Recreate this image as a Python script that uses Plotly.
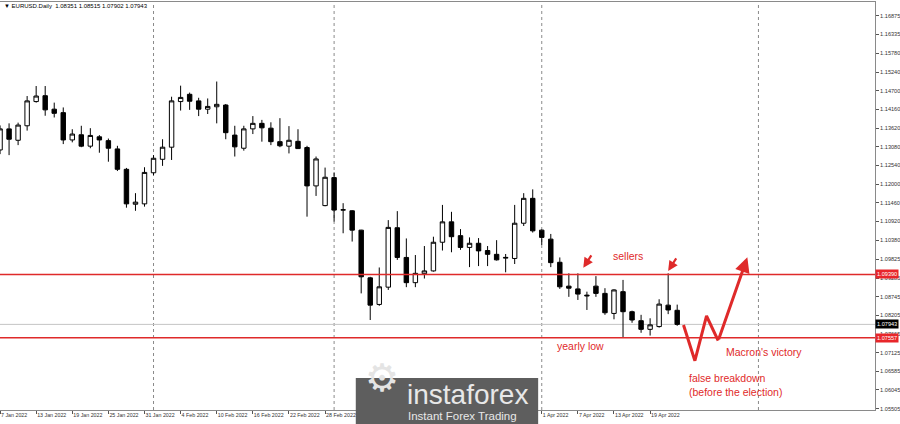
import plotly.graph_objects as go

# ---------------- data ----------------
opens = [1.1299, 1.1360, 1.1327, 1.1369, 1.1439, 1.1456, 1.1417, 1.1407, 1.1328, 1.1343,
         1.1310, 1.1337, 1.1326, 1.1302, 1.1243, 1.1142, 1.1143, 1.1233, 1.1272, 1.1307,
         1.1439, 1.1460, 1.1441, 1.1417, 1.1424, 1.1429, 1.1342, 1.1304, 1.1360, 1.1376,
         1.1362, 1.1323, 1.1310, 1.1324, 1.1306, 1.1195, 1.1138, 1.1219, 1.1125, 1.1123,
         1.1067, 1.0929, 1.0852, 1.0902, 1.1074, 1.0988, 1.0915, 1.0941, 1.0949, 1.1032,
         1.1091, 1.1051, 1.1017, 1.1029, 1.1008, 1.0997, 1.0986, 1.0985, 1.1087, 1.1159,
         1.1067, 1.1041, 1.0974, 1.0905, 1.0897, 1.0879, 1.0905, 1.0884, 1.0826, 1.0889,
         1.0831, 1.0805, 1.0780, 1.0788, 1.0850, 1.08351]
highs = [1.1370, 1.1376, 1.1378, 1.1455, 1.1484, 1.1484, 1.1436, 1.1422, 1.1359, 1.1369,
         1.1362, 1.1342, 1.1332, 1.1311, 1.1247, 1.1174, 1.1249, 1.1284, 1.1330, 1.1453,
         1.1485, 1.1465, 1.1450, 1.1448, 1.1497, 1.1432, 1.1369, 1.1369, 1.1397, 1.1386,
         1.1379, 1.1391, 1.1368, 1.1359, 1.1311, 1.1280, 1.1248, 1.1234, 1.1145, 1.1125,
         1.1068, 1.0932, 1.0959, 1.1096, 1.1122, 1.1043, 1.0995, 1.1021, 1.1048, 1.1140,
         1.1120, 1.1070, 1.1046, 1.1044, 1.1021, 1.1038, 1.0998, 1.1140, 1.1174, 1.1185,
         1.1069, 1.1056, 1.0988, 1.0942, 1.0942, 1.0889, 1.0934, 1.0899, 1.0896, 1.0923,
         1.0834, 1.0822, 1.0812, 1.0867, 1.0942, 1.08515]
lows = [1.1287, 1.1284, 1.1313, 1.1355, 1.1436, 1.1398, 1.1393, 1.1316, 1.1321, 1.1307,
        1.1304, 1.1291, 1.1265, 1.1238, 1.1132, 1.1123, 1.1135, 1.1226, 1.1253, 1.1270,
        1.1413, 1.1415, 1.1397, 1.1403, 1.1376, 1.1330, 1.1280, 1.1297, 1.1345, 1.1323,
        1.1313, 1.1307, 1.1289, 1.1302, 1.1106, 1.1166, 1.1136, 1.1092, 1.1058, 1.1034,
        1.0884, 1.0807, 1.0848, 1.0894, 1.0981, 1.0902, 1.0902, 1.0927, 1.0947, 1.1008,
        1.1003, 1.1010, 1.0960, 1.0963, 1.0963, 1.0979, 1.0945, 1.0969, 1.1079, 1.1060,
        1.1024, 1.0960, 1.0897, 1.0874, 1.0865, 1.0836, 1.0874, 1.0822, 1.0809, 1.0757,
        1.0799, 1.0770, 1.0762, 1.0785, 1.0824, 1.07902]
closes = [1.1360, 1.1330, 1.1371, 1.1441, 1.1455, 1.1415, 1.1405, 1.1328, 1.1345, 1.1310,
          1.1341, 1.1328, 1.1304, 1.1243, 1.1143, 1.1148, 1.1234, 1.1275, 1.1307, 1.1441,
          1.1451, 1.1440, 1.1417, 1.1425, 1.1431, 1.1349, 1.1308, 1.1360, 1.1376, 1.1363,
          1.1323, 1.1311, 1.1327, 1.1303, 1.1195, 1.1273, 1.1220, 1.1125, 1.1126, 1.1067,
          1.0932, 1.0850, 1.0903, 1.1075, 1.0988, 1.0915, 1.0942, 1.0949, 1.1032, 1.1091,
          1.1048, 1.1017, 1.1029, 1.1007, 1.0997, 1.0981, 1.0988, 1.1087, 1.1159, 1.1065,
          1.1046, 1.0973, 1.0903, 1.0899, 1.0882, 1.0877, 1.0884, 1.0828, 1.0894, 1.0831,
          1.0807, 1.0780, 1.0793, 1.0853, 1.0836, 1.07943]
bar_idx = list(range(len(opens)))

x_tick_idx = [0, 4, 8, 12, 16, 20, 24, 28, 32, 36, 60, 64, 68, 72]
x_tick_text = ["7 Jan 2022", "13 Jan 2022", "19 Jan 2022", "25 Jan 2022", "31 Jan 2022",
               "4 Feb 2022", "10 Feb 2022", "16 Feb 2022", "22 Feb 2022", "28 Feb 2022",
               "1 Apr 2022", "7 Apr 2022", "13 Apr 2022", "19 Apr 2022"]
separator_idx = [17, 37, 60, 84]

y_tick_vals = [1.16875, 1.16335, 1.15780, 1.15240, 1.14700, 1.14160, 1.13620, 1.13080,
               1.12540, 1.12000, 1.11460, 1.10920, 1.10380, 1.09825, 1.09285, 1.08745,
               1.08205, 1.07665, 1.07125, 1.06585, 1.06045, 1.05505]
y_tick_text = ["%.5f" % v for v in y_tick_vals]

resistance = 1.09390
support = 1.07557
last_price = 1.07943

forecast_idx = [75.7, 76.96, 78.25, 79.54, 82.77]
forecast_px = [1.07925, 1.06892, 1.08186, 1.07471, 1.09884]

seller_arrow_idx = [64.6, 74.0]
seller_arrow_px = [1.0958, 1.0949]

RED = "#df2a2a"
TXT_FONT = "Liberation Sans, Arial, sans-serif"

fig = go.Figure()
fig.add_trace(go.Candlestick(
    x=bar_idx, open=opens, high=highs, low=lows, close=closes,
    increasing=dict(line=dict(color="black", width=1), fillcolor="white"),
    decreasing=dict(line=dict(color="black", width=1), fillcolor="black"),
    whiskerwidth=0, showlegend=False, hoverinfo="skip",
))

# forecast path (hand-drawn scenario)
fig.add_trace(go.Scatter(
    x=forecast_idx[:-1], y=forecast_px[:-1], mode="lines",
    line=dict(color=RED, width=3), showlegend=False, hoverinfo="skip",
))

shapes = []
for s in separator_idx:
    shapes.append(dict(type="line", xref="x", yref="paper", x0=s, x1=s, y0=0, y1=1,
                       line=dict(color="#8a8a8a", width=1, dash="dot"), layer="below"))
shapes.append(dict(type="line", xref="paper", yref="y", x0=0, x1=1, y0=last_price, y1=last_price,
                   line=dict(color="#c4c4c4", width=1), layer="below"))
for lvl in (resistance, support):
    shapes.append(dict(type="line", xref="paper", yref="y", x0=0, x1=1, y0=lvl, y1=lvl,
                       line=dict(color=RED, width=1.5), layer="above"))
# logo box
shapes.append(dict(type="rect", xref="paper", yref="paper",
                   x0=357 / 878, x1=540 / 878, y0=(410 - 378) / 408, y1=(410 - 424) / 408,
                   fillcolor="#5e5e5e", line=dict(width=0), layer="above"))

ann = []
# title
ann.append(dict(xref="paper", yref="paper", x=0.002, y=(410 - 6) / 408, xanchor="left", yanchor="middle",
                text="▼ EURUSD.Daily  1.08351 1.08515 1.07902 1.07943", showarrow=False,
                font=dict(size=6, color="black", family=TXT_FONT)))
# price labels on axis
for lvl, bg in ((resistance, "#e8262a"), (support, "#e8262a"), (last_price, "black")):
    ann.append(dict(xref="paper", yref="y", x=1, y=lvl, xanchor="left", yanchor="middle",
                    text="%.5f" % lvl, showarrow=False, bgcolor=bg, borderpad=1,
                    font=dict(size=5.6, color="white", family=TXT_FONT)))
# seller arrows
for xi, yi in zip(seller_arrow_idx, seller_arrow_px):
    ann.append(dict(x=xi, y=yi, xref="x", yref="y", text="", showarrow=True, ax=9, ay=-14,
                    arrowhead=2, arrowsize=0.9, arrowwidth=2.2, arrowcolor=RED, standoff=0))
# last forecast leg with arrowhead
ann.append(dict(x=forecast_idx[-1], y=forecast_px[-1], xref="x", yref="y",
                ax=forecast_idx[-2], ay=forecast_px[-2], axref="x", ayref="y",
                text="", showarrow=True, arrowhead=2, arrowsize=1, arrowwidth=3,
                arrowcolor=RED, standoff=0))
# labels
lab_font = dict(size=10.5, color=RED, family=TXT_FONT)
ann.append(dict(x=69.6, y=1.09922, xref="x", yref="y", text="sellers", showarrow=False, font=lab_font))
ann.append(dict(x=64.3, y=1.07318, xref="x", yref="y", text="yearly low", showarrow=False, font=lab_font))
ann.append(dict(x=84.6, y=1.07144, xref="x", yref="y", text="Macron's victory", showarrow=False, font=lab_font))
ann.append(dict(x=76.1, y=1.06392, xref="x", yref="y", xanchor="left", yanchor="middle", align="left",
                text="false breakdown<br>(before the election)", showarrow=False, font=lab_font, yshift=-7))
# logo texts
ann.append(dict(xref="paper", yref="paper", x=383 / 878, y=(410 - 402) / 408, text="⚙",
                showarrow=False, font=dict(size=38, color="#e4e4e4", family="DejaVu Sans")))
ann.append(dict(xref="paper", yref="paper", x=406 / 878, y=(410 - 394) / 408, xanchor="left",
                yanchor="middle", text="instaforex", showarrow=False,
                font=dict(size=28, color="#e8e8e8", family=TXT_FONT)))
ann.append(dict(xref="paper", yref="paper", x=407 / 878, y=(410 - 416) / 408, xanchor="left",
                yanchor="middle", text="Instant Forex Trading", showarrow=False,
                font=dict(size=11.5, color="#e8e8e8", family=TXT_FONT)))

fig.update_layout(
    width=900, height=424,
    margin=dict(l=0, r=22, t=2, b=14),
    paper_bgcolor="white", plot_bgcolor="white",
    showlegend=False,
    shapes=shapes, annotations=ann,
    xaxis=dict(range=[-0.005, 96.909], tickmode="array", tickvals=x_tick_idx, ticktext=x_tick_text,
               ticklabelposition="outside right", tickangle=0, ticks="outside", ticklen=3, tickcolor="#555",
               tickfont=dict(size=5.3, color="#333", family=TXT_FONT),
               showgrid=False, zeroline=False, showline=True, linecolor="#8a8a8a", mirror=True,
               rangeslider=dict(visible=False), fixedrange=True),
    yaxis=dict(side="right", range=[1.05466, 1.17271], tickmode="array", tickvals=y_tick_vals,
               ticktext=y_tick_text, ticks="outside", ticklen=3, tickcolor="#555",
               tickfont=dict(size=5.6, color="#333", family=TXT_FONT),
               showgrid=False, zeroline=False, showline=True, linecolor="#8a8a8a", fixedrange=True),
)

fig.write_html("out.html", config={"displayModeBar": False},
               post_script="document.body.style.margin='0px';document.body.style.overflow='hidden';")
